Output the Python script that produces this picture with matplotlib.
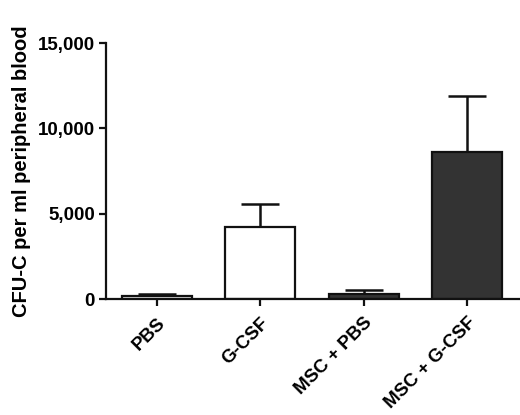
import matplotlib
matplotlib.use("Agg")
import matplotlib.pyplot as plt
from matplotlib.ticker import FuncFormatter

categories = ["PBS", "G-CSF", "MSC + PBS", "MSC + G-CSF"]
values = [150, 4250, 280, 8600]
errors = [150, 1320, 250, 3300]
colors = ["white", "white", "#333333", "#333333"]

plt.rcParams['font.family'] = ['Liberation Sans', 'DejaVu Sans']
plt.rcParams['font.weight'] = 'bold'

fig = plt.figure(figsize=(5.2, 4.15), dpi=100)
ax = fig.add_axes([0.204, 0.2795, 0.796, 0.6165])

x = list(range(len(categories)))
ax.bar(x, values, width=0.68, color=colors, edgecolor='#111111', linewidth=1.6, zorder=2)
ax.errorbar(x, values, yerr=[[0]*len(errors), errors], fmt='none', ecolor='#111111',
            elinewidth=1.8, capsize=13.5, capthick=1.8, zorder=1)

ax.set_xlim(-0.49, 3.51)
ax.set_ylim(0, 15000)
ax.set_yticks([0, 5000, 10000, 15000])
ax.yaxis.set_major_formatter(FuncFormatter(lambda v, p: f"{int(v):,}"))
ax.set_xticks(x)
ax.set_xticklabels(categories, rotation=45, ha='right', rotation_mode='anchor')

for s in ['top', 'right']:
    ax.spines[s].set_visible(False)
for s in ['left', 'bottom']:
    ax.spines[s].set_linewidth(1.6)
    ax.spines[s].set_color('#111111')

ax.tick_params(axis='both', which='major', length=5, width=1.6, color='#111111',
               labelsize=13.5, pad=3)
ax.tick_params(axis='x', pad=6)
ax.set_ylabel("CFU-C per ml peripheral blood", fontsize=14.5, fontweight='bold', labelpad=5)

fig.savefig("out.png", dpi=100)
